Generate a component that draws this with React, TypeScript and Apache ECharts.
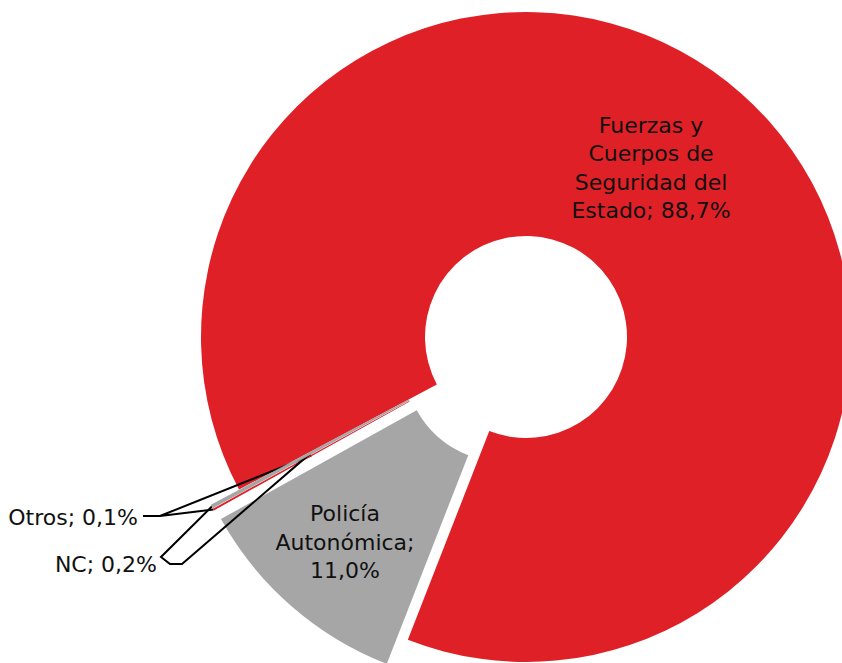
import React, { useEffect, useRef } from 'react';
import * as echarts from 'echarts';

// ---- Data ----
const categories = ['Fuerzas y Cuerpos de Seguridad del Estado', 'Policía Autonómica', 'Otros', 'NC'];
const labelNames = ['Fuerzas y\nCuerpos de\nSeguridad del\nEstado', 'Policía\nAutonómica', 'Otros', 'NC'];
const values = [88.7, 11.0, 0.1, 0.2];
const separators = [' ', '\n', ' ', ' '];
const exploded = [false, true, true, true];
const colors = ['#E02027', '#A6A6A6', '#E02027', '#A6A6A6'];

// ---- Layout / style ----
const CX = 526;
const CY = 337;
const R0 = 101;
const R1 = 325;
const OFFSET = 32;
const START = 208;
const FONT = 'DejaVu Sans';
const FONT_SIZE = 22;
const LINE_H = 28.5;
const TEXT_COLOR = '#111111';

const labelPos = [
  { x: 651, y: 168, align: 'center' },
  { x: 345, y: 542, align: 'center' },
  { x: 138, y: 517, align: 'right' },
  { x: 157, y: 564, align: 'right' },
];

const total = values.reduce((a, b) => a + b, 0);

function midAngle(i: number) {
  let cum = 0;
  for (let j = 0; j < i; j++) cum += values[j];
  return START - ((cum + values[i] / 2) / total) * 360;
}
function sliceCenter(i: number): [number, number] {
  const a = (midAngle(i) * Math.PI) / 180;
  const off = exploded[i] ? OFFSET : 0;
  return [CX + off * Math.cos(a), CY - off * Math.sin(a)];
}
function pointAt(i: number, r: number): [number, number] {
  const c = sliceCenter(i);
  const a = (midAngle(i) * Math.PI) / 180;
  return [c[0] + r * Math.cos(a), c[1] - r * Math.sin(a)];
}
function fmt(v: number) {
  return v.toFixed(1).replace('.', ',') + '%';
}

function leaderPoints(i: number) {
  const mid = pointAt(i, (R0 + R1) / 2);
  const outer = pointAt(i, R1);
  if (i === 2) {
    return [mid, [160, 516], [143, 516], [160, 516], outer];
  }
  if (i === 3) {
    return [outer, [161, 557], [170, 564], [182, 564], mid];
  }
  return undefined;
}

export default function App() {
  const ref = useRef<HTMLDivElement>(null);
  useEffect(() => {
    if (!ref.current) return;
    const chart = echarts.init(ref.current, null, { renderer: 'svg' });
    const series = values.map((_, i) => ({
      type: 'pie',
      center: sliceCenter(i),
      radius: [R0, R1],
      startAngle: START,
      clockwise: true,
      avoidLabelOverlap: false,
      silent: true,
      emphasis: { disabled: true },
      z: 2 + i,
      data: values.map((v, j) => ({
        name: categories[j],
        value: v,
        itemStyle: { color: j === i ? colors[j] : 'rgba(0,0,0,0)', borderWidth: 0 },
        label: { show: j === i, position: j >= 2 ? 'outside' : 'inside' },
        labelLine: { show: j === i && j >= 2 },
      })),
      label: {
        formatter: (p: any) =>
          labelNames[p.dataIndex] + ';' + separators[p.dataIndex] + fmt((p.value / total) * 100),
        fontFamily: FONT,
        fontSize: FONT_SIZE,
        lineHeight: LINE_H,
        color: TEXT_COLOR,
        align: 'center',
      },
      labelLine: {
        length: 10,
        length2: 10,
        lineStyle: { color: '#000000', width: 2 },
      },
      labelLayout: (params: any) => {
        const j = params.dataIndex;
        const lp = labelPos[j];
        const res: any = { x: lp.x, y: lp.y, align: lp.align, verticalAlign: 'middle' };
        const pts = leaderPoints(j);
        if (pts) res.labelLinePoints = pts;
        return res;
      },
    }));
    chart.setOption({
      animation: false,
      backgroundColor: '#ffffff',
      series,
    });
    return () => chart.dispose();
  }, []);
  return (
    <div
      ref={ref}
      style={{ position: 'absolute', left: 0, top: 0, width: 842, height: 663 }}
    />
  );
}
